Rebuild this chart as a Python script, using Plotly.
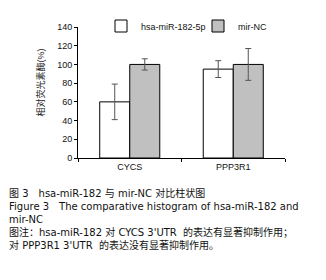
import plotly.graph_objects as go

categories = ["CYCS", "PPP3R1"]
series_names = ["hsa-miR-182-5p", "mir-NC"]
mir182_values = [60, 95]
mir182_err = [19, 9]
nc_values = [100, 100]
nc_err = [6, 17]
y_ticks = [0, 20, 40, 60, 80, 100, 120, 140]
y_title = "相对荧光素酶(%)"
caption_lines = [
    "图 3　hsa-miR-182 与 mir-NC 对比柱状图",
    "Figure 3　The comparative histogram of hsa-miR-182 and",
    "mir-NC",
    "图注：hsa-miR-182 对 CYCS 3'UTR  的表达有显著抑制作用；",
    "对 PPP3R1 3'UTR  的表达没有显著抑制作用。",
]

FONT = "Liberation Sans, Arial, Noto Sans CJK SC"
CAP_FONT = "DejaVu Sans, Noto Sans CJK SC"
fig = go.Figure()
fig.add_trace(go.Bar(
    x=categories, y=mir182_values, name=series_names[0], legend="legend",
    marker=dict(color="white", line=dict(color="black", width=1)),
    error_y=dict(type="data", array=mir182_err, color="#555555", thickness=1, width=3),
))
fig.add_trace(go.Bar(
    x=categories, y=nc_values, name=series_names[1], legend="legend2",
    marker=dict(color="#c0c0c0", line=dict(color="black", width=1)),
    error_y=dict(type="data", array=nc_err, color="#555555", thickness=1, width=3),
))

L, R, T, B = 78, 41, 26, 122
W, H = 326, 280
ph = H - T - B
pw = W - L - R

annotations = [dict(
    text=y_title, textangle=-90, xref="paper", yref="paper",
    x=(41 - L) / pw, y=(H - B - 82) / ph, xanchor="center", yanchor="middle",
    showarrow=False, font=dict(size=9, color="#222", family=FONT),
)]
annotations.append(dict(
    text="<br>".join(caption_lines), xref="paper", yref="paper", align="left",
    x=(7 - L) / pw, y=(H - B - 219) / ph, xanchor="left", yanchor="middle",
    showarrow=False, font=dict(size=10, color="#111", family=CAP_FONT),
))

leg = dict(orientation="h", y=1.0, xanchor="left", yanchor="middle",
           font=dict(size=9, family=FONT), bgcolor="rgba(0,0,0,0)", itemwidth=30)

fig.update_layout(
    width=W, height=H, margin=dict(l=L, r=R, t=T, b=B),
    paper_bgcolor="white", plot_bgcolor="white",
    barmode="group", bargap=0.42, bargroupgap=0,
    font=dict(family=FONT, size=9, color="#111"),
    showlegend=True,
    legend=dict(leg, x=(101 - L) / pw),
    legend2=dict(leg, x=(198 - L) / pw),
    annotations=annotations,
    xaxis=dict(showline=True, linecolor="black", linewidth=1, ticks="outside",
               tickson="boundaries", ticklen=3, tickcolor="black",
               tickfont=dict(size=9, family=FONT), showgrid=False),
    yaxis=dict(range=[0, 140], tickvals=y_ticks, showline=True, linecolor="black",
               linewidth=1, ticks="outside", ticklen=3, tickcolor="black",
               tickfont=dict(size=9, family=FONT), showgrid=False, zeroline=False),
)
fig.write_html("out.html")
